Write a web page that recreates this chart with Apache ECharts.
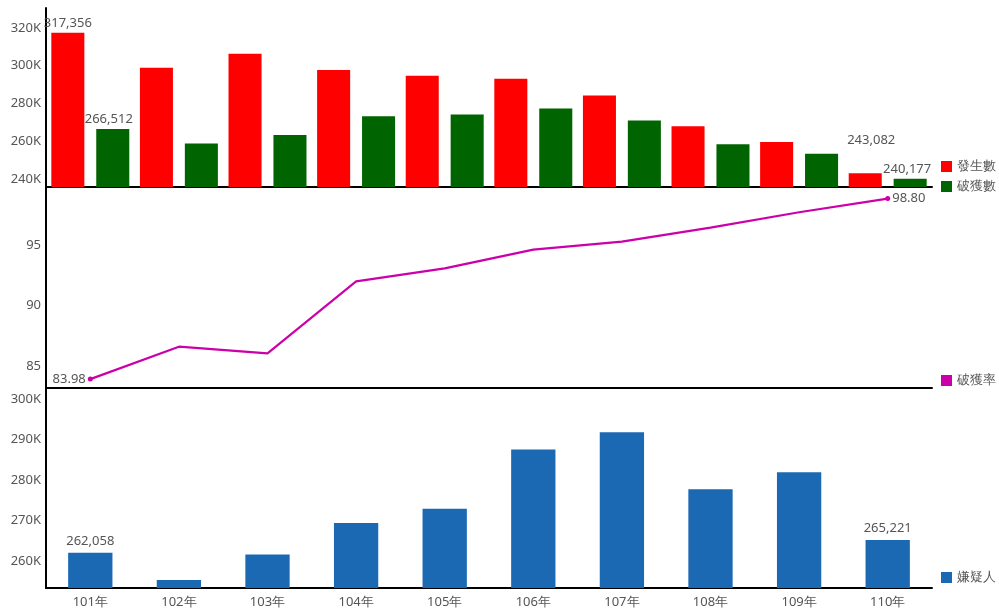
<!DOCTYPE html>
<html><head><meta charset="utf-8">
<script src="https://cdn.jsdelivr.net/npm/echarts@6/dist/echarts.min.js"></script>
<style>html,body{margin:0;padding:0;background:#fff}#c{width:999px;height:609px}</style>
</head><body><div id="c"></div>
<script>
const categories = ['101年','102年','103年','104年','105年','106年','107年','108年','109年','110年'];
const occurred = [317356, 298900, 306300, 297700, 294700, 293100, 284200, 268000, 259600, 243082];
const solved = [266512, 258900, 263300, 273300, 274200, 277300, 271000, 258400, 253400, 240177];
const solveRate = [83.98, 86.64, 86.10, 92.00, 93.07, 94.61, 95.27, 96.42, 97.68, 98.80];
const suspects = [262058, 255300, 261600, 269400, 272900, 287500, 291800, 277700, 281900, 265221];
const topTicks = [240000, 260000, 280000, 300000, 320000];
const midTicks = [85, 90, 95];
const botTicks = [260000, 270000, 280000, 290000, 300000];

const txt = '#555';
const font = 'Noto Sans, Liberation Sans, sans-serif';
const ends = i => i === 0 || i === categories.length - 1;
const fmtNum = v => v.toLocaleString('en-US');
const kFmt = v => (v / 1000) + 'K';

function endLabels(arr, extra) {
  return arr.map((v, i) => {
    const d = { value: v };
    if (ends(i)) d.label = Object.assign({ show: true }, (extra && extra[i]) || {});
    return d;
  });
}

const axisLineStyle = { show: true, lineStyle: { color: '#000', width: 2 } };
const yBase = {
  axisLine: { show: true, lineStyle: { color: '#000', width: 2 } },
  axisTick: { show: false },
  splitLine: { show: false },
};
const grids = [
  { left: 46, right: 67, top: 8, height: 179 },
  { left: 46, right: 67, top: 187, height: 201 },
  { left: 46, right: 67, top: 388, height: 200 },
];

const chart = echarts.init(document.getElementById('c'));
chart.setOption({
  animation: false,
  textStyle: { fontFamily: font },
  grid: grids,
  xAxis: [0, 1, 2].map(g => ({
    type: 'category', gridIndex: g, data: categories, boundaryGap: true,
    axisLine: axisLineStyle, axisTick: { show: false },
    axisLabel: { show: g === 2, color: txt, fontSize: 13, margin: 8, fontFamily: font }
  })),
  yAxis: [
    Object.assign({ type: 'value', gridIndex: 0, min: 235850, max: 330500,
      axisLabel: { color: txt, fontSize: 13, margin: 5, customValues: topTicks, formatter: kFmt, fontFamily: font } }, yBase),
    Object.assign({ type: 'value', gridIndex: 1, min: 83.25, max: 99.75,
      axisLabel: { color: txt, fontSize: 13, margin: 5, customValues: midTicks, fontFamily: font } }, yBase),
    Object.assign({ type: 'value', gridIndex: 2, min: 253350, max: 302700,
      axisLabel: { color: txt, fontSize: 13, margin: 5, customValues: botTicks, formatter: kFmt, fontFamily: font } }, yBase),
  ],
  legend: [
    { data: ['發生數', '破獲數'], orient: 'vertical', left: 936, top: 155, itemWidth: 11, itemHeight: 11, itemGap: 7, icon: 'rect',
      textStyle: { color: txt, fontSize: 13, fontFamily: font }, selectedMode: false },
    { data: [{ name: '破獲率', icon: 'rect' }], orient: 'vertical', left: 936, top: 369, itemWidth: 11, itemHeight: 11, icon: 'rect',
      textStyle: { color: txt, fontSize: 13, fontFamily: font }, selectedMode: false },
    { data: ['嫌疑人'], orient: 'vertical', left: 936, top: 566, itemWidth: 11, itemHeight: 11, icon: 'rect',
      textStyle: { color: txt, fontSize: 13, fontFamily: font }, selectedMode: false },
  ],
  series: [
    { name: '發生數', type: 'bar', xAxisIndex: 0, yAxisIndex: 0, barCategoryGap: '12%', barGap: '36%',
      itemStyle: { color: '#ff0000' },
      label: { show: false, position: 'top', color: txt, fontSize: 13, distance: 3, formatter: p => fmtNum(p.value) },
      data: endLabels(occurred, { 9: { offset: [6, -24] } }) },
    { name: '破獲數', type: 'bar', xAxisIndex: 0, yAxisIndex: 0,
      itemStyle: { color: '#006400' },
      label: { show: false, position: 'top', color: txt, fontSize: 13, distance: 3, formatter: p => fmtNum(p.value) },
      data: endLabels(solved, { 0: { offset: [-4, 0] }, 9: { offset: [-3, 0] } }) },
    { name: '破獲率', type: 'line', xAxisIndex: 1, yAxisIndex: 1,
      lineStyle: { color: '#cc00aa', width: 2.2 }, itemStyle: { color: '#cc00aa' },
      symbol: 'circle', symbolSize: (v, p) => ends(p.dataIndex) ? 5 : 0, showAllSymbol: true,
      label: { show: false, color: txt, fontSize: 13, distance: 2, formatter: p => p.value.toFixed(2) },
      data: endLabels(solveRate, { 0: { position: 'left' }, 9: { position: 'right' } }) },
    { name: '嫌疑人', type: 'bar', xAxisIndex: 2, yAxisIndex: 2, barWidth: '50%',
      itemStyle: { color: '#1b69b3' },
      label: { show: false, position: 'top', color: txt, fontSize: 13, distance: 5, formatter: p => fmtNum(p.value) },
      data: endLabels(suspects) },
  ]
});
</script>
</body></html>
